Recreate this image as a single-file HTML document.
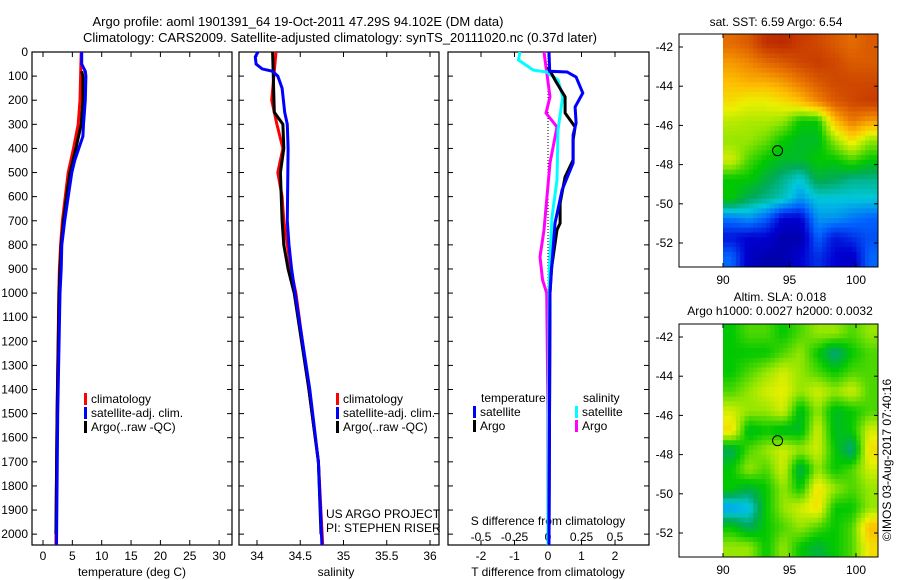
<!DOCTYPE html>
<html><head><meta charset="utf-8"><style>
html,body{margin:0;padding:0;background:#fff;}
svg{display:block;font-family:"Liberation Sans",sans-serif;font-size:12px;}
</style></head><body>
<svg id="fig" width="900" height="580" viewBox="0 0 900 580">
<text x="298" y="26" text-anchor="middle" font-size="13">Argo profile: aoml 1901391_64 19-Oct-2011 47.29S 94.102E (DM data)</text>
<text x="340" y="42" text-anchor="middle" font-size="13">Climatology: CARS2009. Satellite-adjusted climatology: synTS_20111020.nc (0.37d later)</text>
<g id="g"></g>
</svg>
<script>
// ---- profile data ----
const tempClimDepth=[0,100,200,300,400,500,600,700,800,900,1000,1500,2045];
const tempClim=[6.5,6.4,6.3,6.0,5.2,4.3,3.8,3.3,3.0,2.8,2.7,2.4,2.2];
const tempSatDepth=[0,50,80,100,200,300,350,400,450,500,600,700,800,900,1000,1500,2045];
const tempSat=[6.6,6.6,7.2,7.3,7.2,6.9,6.8,6.1,5.4,4.9,4.3,3.7,3.2,3.1,2.9,2.5,2.3];
const tempArgoDepth=[80,100,200,300,400,500,600,700,800,900,1000,1500,2000];
const tempArgo=[6.6,6.8,6.8,6.5,5.6,4.6,4.0,3.5,3.1,2.9,2.75,2.4,2.2];
const salClimDepth=[0,200,300,400,500,600,700,800,900,1000,1400,1700,2045];
const salClim=[34.22,34.17,34.23,34.30,34.24,34.29,34.31,34.35,34.39,34.45,34.60,34.71,34.76];
const salSatDepth=[0,20,50,70,80,100,150,250,300,400,700,800,900,1000,1400,1700,2045];
const salSat=[34.01,33.98,33.99,34.06,34.18,34.24,34.29,34.32,34.35,34.36,34.35,34.37,34.40,34.44,34.61,34.71,34.75];
const salArgoDepth=[0,250,300,400,500,700,800,900,1000,1400,1700,2000];
const salArgo=[34.18,34.20,34.30,34.31,34.27,34.29,34.31,34.36,34.43,34.60,34.71,34.74];
const dTSatDepth=[0,80,83,104,170,228,295,344,460,572,710,875,1000,2045];
const dTSat=[0.03,0.05,0.57,0.84,1.04,0.81,0.84,0.75,0.75,0.42,0.21,0.12,0.06,0.03];
const dTArgoDepth=[62,116,186,253,311,365,448,518,627,710,738,900,1000,2000];
const dTArgo=[0,0.21,0.51,0.51,0.81,0.75,0.75,0.51,0.36,0.36,0.27,0.1,0.06,0.03];
const dSSatDepth=[0,33,75,83,116,186,324,531,685,900,2045];
const dSSat=[-0.21,-0.22,-0.11,-0.01,0.075,0.11,0.075,0.067,0.03,0.01,0.0];
const dSArgoDepth=[0,186,253,311,460,738,850,946,1000,1500,2045];
const dSArgo=[-0.03,0.015,-0.015,0.067,0.015,-0.03,-0.06,-0.04,-0.01,0.0,0.0];
const depthTicks=[0,100,200,300,400,500,600,700,800,900,1000,1100,1200,1300,1400,1500,1600,1700,1800,1900,2000];
const tempTicks=[0,5,10,15,20,25,30];
const salTicks=["34","34.5","35","35.5","36"];
const dTTicks=["-2","-1","0","1","2"];
const dSTicks=["-0.5","-0.25","0","0.25","0.5"];
// ---- map data (rows north->south ~1deg, cols 90..101.6E) ----
const sstGrid=[
[0.82,0.85,0.92,0.93,0.90,0.88,0.85,0.82,0.85],
[0.75,0.78,0.82,0.85,0.88,0.90,0.88,0.85,0.85],
[0.70,0.72,0.72,0.75,0.80,0.85,0.88,0.88,0.88],
[0.65,0.62,0.62,0.65,0.70,0.78,0.85,0.88,0.90],
[0.58,0.57,0.57,0.55,0.45,0.45,0.70,0.80,0.75],
[0.55,0.55,0.52,0.45,0.42,0.42,0.55,0.65,0.55],
[0.60,0.50,0.45,0.42,0.42,0.45,0.45,0.50,0.45],
[0.45,0.45,0.40,0.35,0.30,0.40,0.38,0.35,0.35],
[0.45,0.38,0.35,0.32,0.25,0.30,0.30,0.30,0.30],
[0.22,0.25,0.20,0.10,0.10,0.25,0.25,0.22,0.20],
[0.12,0.10,0.10,0.05,0.05,0.20,0.12,0.15,0.18],
[0.20,0.08,0.05,0.05,0.10,0.15,0.10,0.08,0.20]];
const slaGrid=[
[0.45,0.50,0.50,0.45,0.50,0.55,0.55,0.50,0.55],
[0.45,0.45,0.45,0.50,0.55,0.45,0.35,0.45,0.50],
[0.45,0.50,0.55,0.60,0.55,0.50,0.45,0.50,0.50],
[0.50,0.55,0.60,0.62,0.55,0.60,0.55,0.60,0.50],
[0.60,0.55,0.55,0.60,0.42,0.55,0.42,0.45,0.50],
[0.65,0.42,0.45,0.42,0.42,0.60,0.42,0.45,0.60],
[0.38,0.50,0.55,0.60,0.55,0.60,0.45,0.35,0.65],
[0.45,0.55,0.50,0.60,0.38,0.55,0.45,0.50,0.60],
[0.45,0.40,0.45,0.55,0.45,0.65,0.55,0.50,0.55],
[0.25,0.28,0.45,0.55,0.60,0.65,0.45,0.45,0.55],
[0.45,0.38,0.45,0.50,0.55,0.50,0.45,0.50,0.70],
[0.55,0.55,0.45,0.55,0.45,0.40,0.45,0.50,0.65]];
const latTicks=[-42,-44,-46,-48,-50,-52];
const lonTicks=[90,95,100];
const argoPos=[94.102,-47.29];

const NS="http://www.w3.org/2000/svg";
const G=document.getElementById('g');
function mk(tag,attrs,parent,text){const e=document.createElementNS(NS,tag);for(const k in attrs)e.setAttribute(k,attrs[k]);if(text!==undefined)e.textContent=text;(parent||G).appendChild(e);return e;}
const Y0=52,Y1=545,DMAX=2045;
const yD=d=>Y0+(d/DMAX)*(Y1-Y0);
const xT=v=>43+5.87*v;
const xS=v=>257+86.5*(v-34);
const xDT=v=>548+33.5*v;
const xDS=v=>548+134*v;
function line(xs,ds,fx,color,name,w){
  const pts=xs.map((v,i)=>fx(v).toFixed(1)+","+yD(ds[i]).toFixed(1)).join(" ");
  const p=mk('polyline',{points:pts,fill:'none',stroke:color,'stroke-width':w||3},G);
  
  
}
function frame(x0,x1,name){
  const r=mk('rect',{x:x0,y:Y0,width:x1-x0,height:Y1-Y0,fill:'none',stroke:'#000','stroke-width':1.2});
  
  
}
function tickX(x,lbl,name,yl){
  mk('line',{x1:x,x2:x,y1:Y1,y2:Y1-5,stroke:'#000'});mk('line',{x1:x,x2:x,y1:Y0,y2:Y0+5,stroke:'#000'});
  const t=mk('text',{x:x,y:yl||560,'text-anchor':'middle'},G,lbl);
  
  
}
frame(32,232,'temperature-panel');frame(239,439,'salinity-panel');frame(448,649,'difference-panel');
depthTicks.forEach(d=>{
  const y=yD(d);
  [[32,232],[239,439],[448,649]].forEach(([a,b])=>{mk('line',{x1:a,x2:a+5,y1:y,y2:y,stroke:'#000'});mk('line',{x1:b,x2:b-5,y1:y,y2:y,stroke:'#000'});});
  const t=mk('text',{x:28,y:y+4,'text-anchor':'end'},G,String(d));
  
  
});
tempTicks.forEach(v=>tickX(xT(v),String(v),'temperature-tick-label'));
salTicks.forEach(v=>tickX(xS(+v),v,'salinity-tick-label'));
dTTicks.forEach(v=>tickX(xDT(+v),v,'t-diff-tick-label'));
dSTicks.forEach(v=>{const t=mk('text',{x:xDS(+v),y:541,'text-anchor':'middle'},G,v);});
function lab(x,y,s,name,anchor){const t=mk('text',{x:x,y:y,'text-anchor':anchor||'start'},G,s);return t;}
lab(132,576,'temperature (deg C)','x-axis-title-temperature','middle');
lab(336,576,'salinity','x-axis-title-salinity','middle');
lab(548,576,'T difference from climatology','x-axis-title-t-diff','middle');
lab(548,525,'S difference from climatology','x-axis-title-s-diff','middle');
const z=mk('line',{x1:548,x2:548,y1:yD(0),y2:yD(1000),stroke:'#000','stroke-dasharray':'1,2'});

line(tempClim,tempClimDepth,xT,'#f00','temp-climatology-line');
line(tempArgo,tempArgoDepth,xT,'#000','temp-argo-line');
line(tempSat,tempSatDepth,xT,'#00f','temp-satellite-line');
line(salClim,salClimDepth,xS,'#f00','sal-climatology-line');
line(salArgo,salArgoDepth,xS,'#000','sal-argo-line');
line(salSat,salSatDepth,xS,'#00f','sal-satellite-line');
line(dSArgo,dSArgoDepth,xDS,'#f0f','s-diff-argo-line');
line(dSSat,dSSatDepth,xDS,'#0ff','s-diff-satellite-line');
line(dTArgo,dTArgoDepth,xDT,'#000','t-diff-argo-line');
line(dTSat,dTSatDepth,xDT,'#00f','t-diff-satellite-line');
function leg(x,y,c,s,name){const r=mk('rect',{x:x,y:y-10,width:3,height:12,fill:c});lab(x+7,y,s,name);}
[[84,'#f00','climatology'],[84,'#00f','satellite-adj. clim.'],[84,'#000','Argo(..raw -QC)']].forEach((a,i)=>{leg(a[0],403+i*14,a[1],a[2],'legend-entry-temp');leg(336,403+i*14,a[1],a[2],'legend-entry-sal');});
lab(481,402,'temperature','legend-title-temperature');lab(583,402,'salinity','legend-title-salinity');
leg(473,416,'#00f','satellite','legend-t-satellite');leg(473,430,'#000','Argo','legend-t-argo');
leg(575,416,'#0ff','satellite','legend-s-satellite');leg(575,430,'#f0f','Argo','legend-s-argo');
lab(326,518,'US ARGO PROJECT','project-label');lab(326,532,'PI: STEPHEN RISER','pi-label');
// custom colormap
const cmapStops=[[0,[0,0,140]],[0.1,[0,0,210]],[0.2,[0,100,255]],[0.3,[0,200,220]],[0.38,[0,170,90]],[0.45,[0,200,0]],[0.55,[150,230,0]],[0.62,[235,240,0]],[0.7,[255,190,0]],[0.8,[235,120,0]],[0.9,[200,60,0]],[1,[160,0,0]]];
function cmap(v){v=Math.max(0,Math.min(1,v));for(let i=1;i<cmapStops.length;i++){const [a,ca]=cmapStops[i-1],[b,cb]=cmapStops[i];if(v<=b){const t=(v-a)/(b-a);return 'rgb('+ca.map((c,k)=>Math.round(c+(cb[k]-c)*t)).join(',')+')';}}return 'rgb(160,0,0)';}
function sample(grid,fi,fj){const R=grid.length,C=grid[0].length;fi=Math.max(0,Math.min(R-1,fi));fj=Math.max(0,Math.min(C-1,fj));const i0=Math.floor(fi),j0=Math.floor(fj),i1=Math.min(R-1,i0+1),j1=Math.min(C-1,j0+1),ti=fi-i0,tj=fj-j0;return (grid[i0][j0]*(1-tj)+grid[i0][j1]*tj)*(1-ti)+(grid[i1][j0]*(1-tj)+grid[i1][j1]*tj)*ti;}
function map(top,grid,name){
  const bot=top+233,fx0=679,fx1=878;
  const xL=lon=>723+(lon-90)*13.3, yL=lat=>top+13+(-42-lat)*19.6;
  const latN=-41.33,latS=-53.2,lonE=101.65,rows=grid.length,cols=grid[0].length,U=4;
  for(let i=0;i<rows*U;i++)for(let j=0;j<cols*U;j++){
    const v=sample(grid,(i+0.5)/U-0.5,(j+0.5)/U-0.5);
    const la0=latN+(latS-latN)*i/(rows*U),la1=latN+(latS-latN)*(i+1)/(rows*U),lo0=90+(lonE-90)*j/(cols*U),lo1=90+(lonE-90)*(j+1)/(cols*U);
    const c=mk('rect',{x:xL(lo0).toFixed(1),y:yL(la0).toFixed(1),width:(xL(lo1)-xL(lo0)+0.6).toFixed(1),height:(yL(la1)-yL(la0)+0.6).toFixed(1),fill:cmap(v)});
    
    
  }
  const f=mk('rect',{x:fx0,y:top,width:fx1-fx0,height:bot-top,fill:'none',stroke:'#000'});
  
  latTicks.forEach(l=>{const y=yL(l);mk('line',{x1:fx0,x2:fx0+4,y1:y,y2:y,stroke:'#000'});mk('line',{x1:fx1,x2:fx1-4,y1:y,y2:y,stroke:'#000'});lab(673,y+4,String(l),name+'-lat-label','end');});
  lonTicks.forEach(l=>{const x=xL(l);mk('line',{x1:x,x2:x,y1:top,y2:top+4,stroke:'#000'});mk('line',{x1:x,x2:x,y1:bot,y2:bot-4,stroke:'#000'});lab(x,bot+17,String(l),name+'-lon-label','middle');});
  const c=mk('circle',{cx:xL(argoPos[0]),cy:yL(argoPos[1]),r:5,fill:'none',stroke:'#000'});
  
}
map(34,sstGrid,'sst-map');
map(324,slaGrid,'sla-map');
lab(776,26,'sat. SST: 6.59 Argo: 6.54','sst-map-title','middle');
lab(780,301,'Altim. SLA: 0.018','sla-map-title','middle');
lab(780,315,'Argo h1000: 0.0027 h2000: 0.0032','sla-map-subtitle','middle');
const cr=lab(0,0,'©IMOS 03-Aug-2017 07:40:16','timestamp-label','middle');
cr.setAttribute('transform','translate(891,460) rotate(-90)');
</script>
</body></html>
